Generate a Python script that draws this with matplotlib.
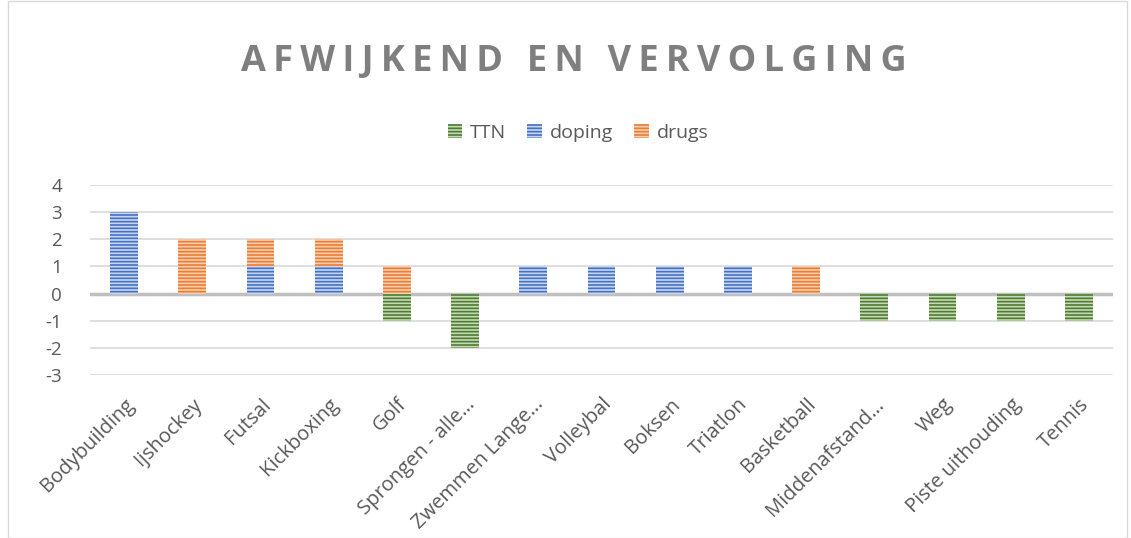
import matplotlib
matplotlib.use("Agg")
import matplotlib.pyplot as plt
from matplotlib.patches import Rectangle
import numpy as np

categories = ["Bodybuilding", "Ijshockey", "Futsal", "Kickboxing", "Golf",
              "Sprongen - alle…", "Zwemmen Lange…", "Volleybal", "Boksen",
              "Triatlon", "Basketball", "Middenafstand…", "Weg",
              "Piste uithouding", "Tennis"]
ttn = [0, 0, 0, 0, -1, -2, 0, 0, 0, 0, 0, -1, -1, -1, -1]
doping = [3, 0, 1, 1, 0, 0, 1, 1, 1, 1, 0, 0, 0, 0, 0]
drugs = [0, 2, 1, 1, 1, 0, 0, 0, 0, 0, 1, 0, 0, 0, 0]
yticks = [-3, -2, -1, 0, 1, 2, 3, 4]
title = "AFWIJKEND EN VERVOLGING"

plt.rcParams['font.family'] = ['Open Sans', 'DejaVu Sans']
plt.rcParams['hatch.linewidth'] = 1.2

fig = plt.figure(figsize=(11.31, 5.38), dpi=100)
ax = fig.add_axes([90/1131, 1-375/538, (1113-90)/1131, (375-185)/538])

x = np.arange(len(categories))
w = 0.41
styles = {
    "TTN": ("#c5d9b5", "#4e7d32"),
    "doping": ("#c9d6ef", "#4472c4"),
    "drugs": ("#f8cfb2", "#ed7d31"),
}

def bars(vals, bottom, name):
    fc, hc = styles[name]
    plt.rcParams['hatch.color'] = hc
    return ax.bar(x, vals, w, bottom=bottom, color=fc, edgecolor=hc,
                  linewidth=0, hatch='-----', label=name, zorder=3)

bars(ttn, 0, "TTN")
bars(doping, 0, "doping")
bars(drugs, doping, "drugs")

ax.set_ylim(-3, 4)
ax.set_xlim(-0.5, len(categories) - 0.5)
ax.set_yticks(yticks)
ax.set_yticklabels([str(t) for t in yticks], fontsize=13.5, color="#595959")
ax.set_xticks(x)
ax.set_xticklabels(categories, rotation=45, ha="right", rotation_mode="anchor",
                   fontsize=14.5, color="#595959")
ax.tick_params(axis="x", length=0, pad=14)
ax.tick_params(axis="y", length=0, pad=20)
ax.grid(axis="y", color="#d9d9d9", linewidth=1.2, zorder=0)
ax.axhline(0, color="#bfbfbf", linewidth=2.5, zorder=2)
for s in ax.spines.values():
    s.set_visible(False)

spaced = "\u2009".join(title)
fig.text(574/1131, 1-62/538, spaced, ha="center", va="center",
         fontsize=26, fontweight="bold", color="#7f7f7f")

leg = fig.legend(loc="center", bbox_to_anchor=(578/1131, 1-133/538), ncol=3,
                 frameon=False, fontsize=14, handlelength=0.75, handleheight=0.75,
                 handletextpad=0.4, columnspacing=1.1)
for t in leg.get_texts():
    t.set_color("#595959")

fig.patches.append(Rectangle((8/1131, 0), (1127-8)/1131, 0.999, transform=fig.transFigure,
                             fill=False, edgecolor="#d9d9d9", linewidth=1))

fig.savefig("out.png", dpi=100)
